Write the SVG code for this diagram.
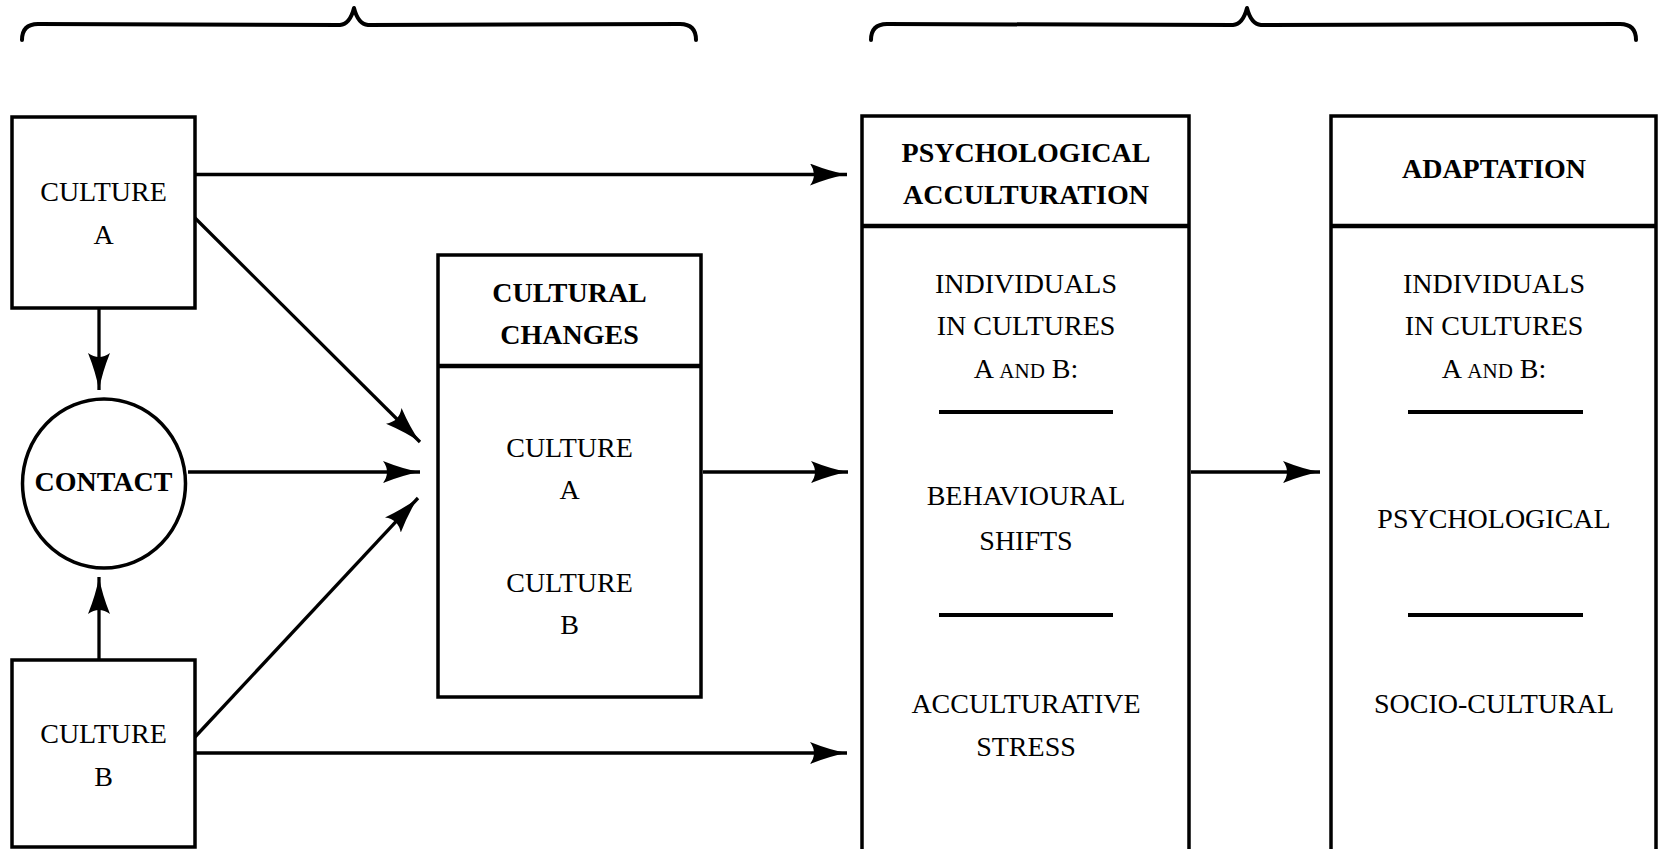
<svg xmlns="http://www.w3.org/2000/svg" width="1659" height="849" viewBox="0 0 1659 849">
<style>
  .box { fill: none; stroke: #000; stroke-width: 3.5; }
  .div { stroke: #000; stroke-width: 4.5; }
  .sep { stroke: #000; stroke-width: 4; }
  .brace { fill: none; stroke: #000; stroke-width: 4; stroke-linecap: round; stroke-linejoin: round; }
  .conn { fill: none; stroke: #000; stroke-width: 3.3; marker-end: url(#arr); }
  text { font-family: "Liberation Serif", "Times New Roman", serif; font-size: 28px; fill: #000; text-anchor: middle; }
  .b { font-weight: bold; }
  .sc { font-size: 21px; }
</style>
<defs>
  <marker id="arr" markerUnits="userSpaceOnUse" markerWidth="40" markerHeight="24" refX="37" refY="11" orient="auto">
    <path d="M0,0 Q20,8 37,11 Q20,14 0,22 Q8,11 0,0 Z" fill="#000"/>
  </marker>
</defs>
<rect width="1659" height="849" fill="#fff"/>

<g id="braces">
  <path class="brace" d="M22,40 Q22,24 38,24 L340,25 Q350,24 354,8 Q358,24 368,25 L680,24 Q696,24 696,40"/>
  <path class="brace" d="M871,40 Q871,24 887,24 L1233,25 Q1243,24 1247,8 Q1251,24 1261,25 L1620,24 Q1636,24 1636,40"/>
</g>

<g id="connectors">
  <line class="conn" x1="195" y1="174.5" x2="847" y2="174.5"/>
  <line class="conn" x1="195" y1="753" x2="847" y2="753"/>
  <line class="conn" x1="99" y1="308" x2="99" y2="390"/>
  <line class="conn" x1="99" y1="659" x2="99" y2="577"/>
  <line class="conn" x1="195" y1="218" x2="420" y2="442"/>
  <line class="conn" x1="195" y1="737" x2="418" y2="498"/>
  <line class="conn" x1="188" y1="472" x2="420" y2="472"/>
  <line class="conn" x1="703" y1="472" x2="848" y2="472"/>
  <line class="conn" x1="1191" y1="472" x2="1320" y2="472"/>
</g>

<g id="cultureA">
  <rect class="box" x="12" y="117" width="183" height="191"/>
  <text x="103.5" y="201">CULTURE</text>
  <text x="103.5" y="244">A</text>
</g>

<g id="contact">
  <ellipse cx="104" cy="483.5" rx="81.5" ry="84.5" fill="none" stroke="#000" stroke-width="3.5"/>
  <text class="b" x="103.5" y="491">CONTACT</text>
</g>

<g id="cultureB">
  <rect class="box" x="12" y="660" width="183" height="187"/>
  <text x="103.5" y="743">CULTURE</text>
  <text x="103.5" y="786">B</text>
</g>

<g id="culturalChanges">
  <rect class="box" x="438" y="255" width="263" height="442"/>
  <line class="div" x1="438" y1="366" x2="701" y2="366"/>
  <text class="b" x="569.5" y="302">CULTURAL</text>
  <text class="b" x="569.5" y="344">CHANGES</text>
  <text x="569.5" y="457">CULTURE</text>
  <text x="569.5" y="499">A</text>
  <text x="569.5" y="592">CULTURE</text>
  <text x="569.5" y="634">B</text>
</g>

<g id="psychAcc">
  <path class="box" d="M862,851 V116 H1189 V851"/>
  <line class="div" x1="862" y1="226" x2="1189" y2="226"/>
  <text class="b" x="1026" y="162">PSYCHOLOGICAL</text>
  <text class="b" x="1026" y="204">ACCULTURATION</text>
  <text x="1026" y="293">INDIVIDUALS</text>
  <text x="1026" y="335">IN CULTURES</text>
  <text x="1026" y="378">A <tspan class="sc">AND</tspan> B:</text>
  <line class="sep" x1="939" y1="412" x2="1113" y2="412"/>
  <text x="1026" y="505">BEHAVIOURAL</text>
  <text x="1026" y="550">SHIFTS</text>
  <line class="sep" x1="939" y1="615" x2="1113" y2="615"/>
  <text x="1026" y="713">ACCULTURATIVE</text>
  <text x="1026" y="756">STRESS</text>
</g>

<g id="adaptation">
  <path class="box" d="M1331,851 V116 H1656 V851"/>
  <line class="div" x1="1331" y1="226" x2="1656" y2="226"/>
  <text class="b" x="1494" y="178">ADAPTATION</text>
  <text x="1494" y="293">INDIVIDUALS</text>
  <text x="1494" y="335">IN CULTURES</text>
  <text x="1494" y="378">A <tspan class="sc">AND</tspan> B:</text>
  <line class="sep" x1="1408" y1="412" x2="1583" y2="412"/>
  <text x="1494" y="528">PSYCHOLOGICAL</text>
  <line class="sep" x1="1408" y1="615" x2="1583" y2="615"/>
  <text x="1494" y="713">SOCIO-CULTURAL</text>
</g>
</svg>
